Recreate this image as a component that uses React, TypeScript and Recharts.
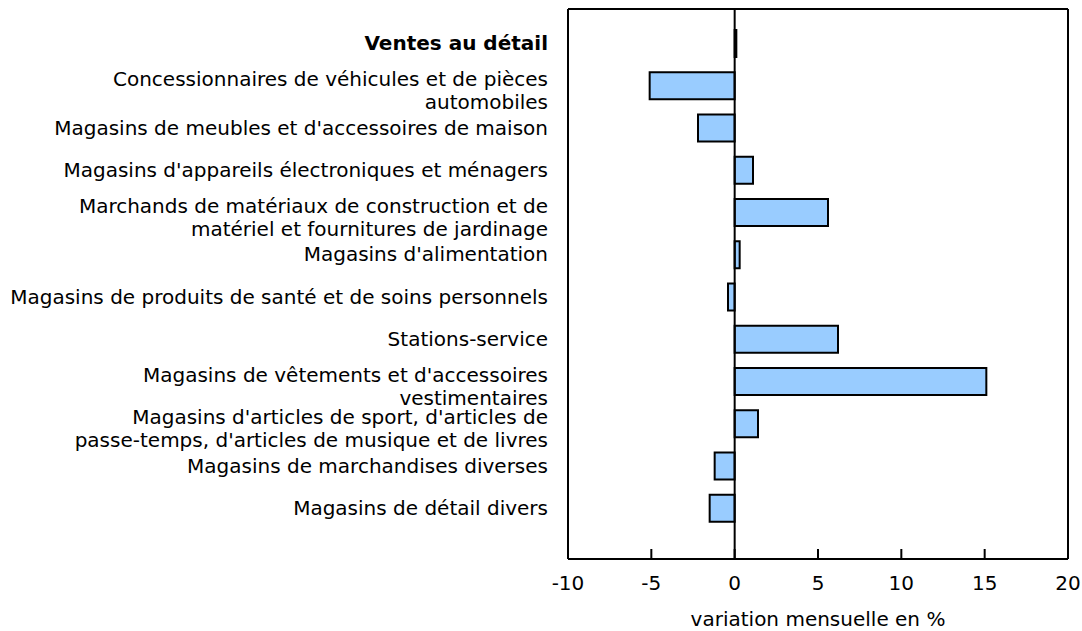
import { BarChart, Bar, XAxis, YAxis, ReferenceLine } from "recharts"

const categories = [
	["Ventes au détail"],
	["Concessionnaires de véhicules et de pièces", "automobiles"],
	["Magasins de meubles et d'accessoires de maison"],
	["Magasins d'appareils électroniques et ménagers"],
	["Marchands de matériaux de construction et de", "matériel et fournitures de jardinage"],
	["Magasins d'alimentation"],
	["Magasins de produits de santé et de soins personnels"],
	["Stations-service"],
	["Magasins de vêtements et d'accessoires", "vestimentaires"],
	["Magasins d'articles de sport, d'articles de", "passe-temps, d'articles de musique et de livres"],
	["Magasins de marchandises diverses"],
	["Magasins de détail divers"],
]

const values = [0.1, -5.1, -2.2, 1.1, 5.6, 0.3, -0.4, 6.2, 15.1, 1.4, -1.2, -1.5]

const xTicks = [-10, -5, 0, 5, 10, 15, 20]

const data = categories.map((lines, i) => ({
	name: lines.join(" "),
	value: values[i],
}))

const linesByName: Record<string, string[]> = {}
categories.forEach((lines) => {
	linesByName[lines.join(" ")] = lines
})

const FONT = "'DejaVu Sans', Verdana, sans-serif"

function CategoryTick(props: any) {
	const { x, y, payload, index } = props
	const lines = linesByName[payload.value] || [payload.value]
	const bold = index === 0
	return (
		<text
			x={x - 20}
			y={y}
			textAnchor="end"
			fontSize={20}
			fontFamily={FONT}
			fontWeight={bold ? "bold" : "normal"}
			fill="#000"
		>
			{lines.length === 1 ? (
				<tspan x={x - 20} y={y + 7}>
					{lines[0]}
				</tspan>
			) : (
				lines.map((line, i) => (
					<tspan key={i} x={x - 20} y={y + 1 + i * 22.5}>
						{line}
					</tspan>
				))
			)}
		</text>
	)
}

function ValueTick(props: any) {
	const { x, y, payload } = props
	return (
		<g>
			<line x1={x} x2={x} y1={y} y2={y - 10} stroke="#000" strokeWidth={2} />
			<text x={x} y={y + 31} textAnchor="middle" fontSize={20} fontFamily={FONT} fill="#000">
				{payload.value}
			</text>
		</g>
	)
}

export default function App() {
	return (
		<div style={{ position: "absolute", left: 0, top: 0, background: "#fff" }}>
			<BarChart
				width={1082}
				height={631}
				data={data}
				layout="vertical"
				margin={{ top: 0, right: 0, bottom: 0, left: 0 }}
			>
				<XAxis
					type="number"
					domain={[-10, 20]}
					ticks={xTicks}
					allowDataOverflow
					height={72}
					tickSize={0}
					tickMargin={0}
					tickLine={false}
					axisLine={{ stroke: "#000", strokeWidth: 2 }}
					tick={<ValueTick />}
					label={{
						value: "variation mensuelle en %",
						position: "insideBottom",
						offset: 5,
						fontSize: 20,
						fontFamily: FONT,
						fill: "#000",
					}}
				/>
				<XAxis
					xAxisId="top"
					orientation="top"
					type="number"
					domain={[-10, 20]}
					allowDataOverflow
					height={9}
					tick={false}
					tickLine={false}
					axisLine={{ stroke: "#000", strokeWidth: 2 }}
				/>
				<YAxis
					type="category"
					dataKey="name"
					width={568}
					interval={0}
					padding={{ top: 13, bottom: 30 }}
					tickSize={0}
					tickMargin={0}
					tickLine={false}
					axisLine={{ stroke: "#000", strokeWidth: 2 }}
					tick={<CategoryTick />}
				/>
				<YAxis
					yAxisId="right"
					orientation="right"
					type="category"
					dataKey="name"
					width={14}
					tick={false}
					tickLine={false}
					axisLine={{ stroke: "#000", strokeWidth: 2 }}
				/>
				<Bar
					dataKey="value"
					fill="#99CCFF"
					stroke="#000"
					strokeWidth={2}
					barSize={27}
					isAnimationActive={false}
				/>
				<ReferenceLine x={0} stroke="#000" strokeWidth={2} />
			</BarChart>
		</div>
	)
}
